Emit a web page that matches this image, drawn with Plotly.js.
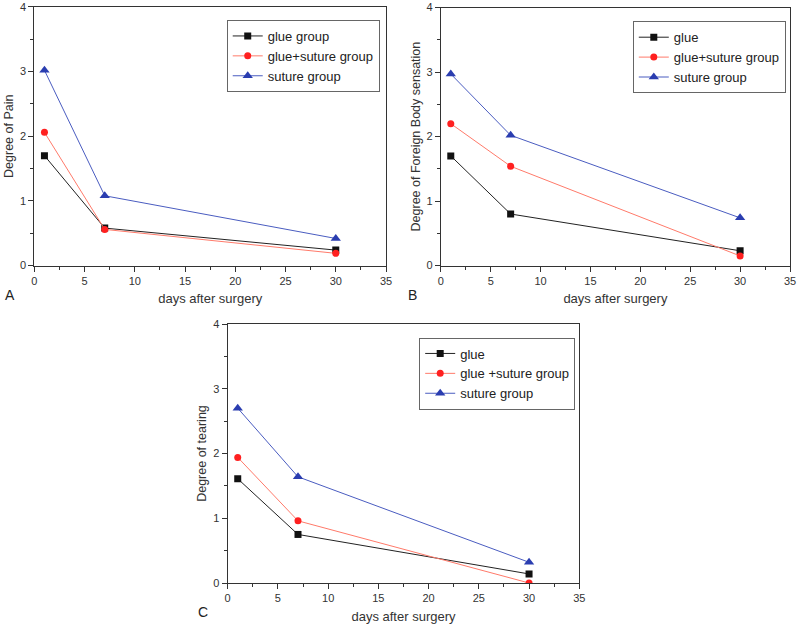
<!DOCTYPE html>
<html>
<head>
<meta charset="utf-8">
<script src="https://cdn.plot.ly/plotly-3.0.1.min.js"></script>
<style>
  html, body { margin: 0; padding: 0; background: #fff; }
  #chart { width: 800px; height: 625px; }
</style>
</head>
<body>
<div id="chart"></div>
<script>
// days after surgery
const days = [1, 7, 30]

// A: degree of pain
const painGlue = [1.70, 0.58, 0.24]
const painGlueSuture = [2.06, 0.56, 0.19]
const painSuture = [3.02, 1.08, 0.42]

// B: degree of foreign body sensation
const foreignGlue = [1.70, 0.80, 0.23]
const foreignGlueSuture = [2.20, 1.54, 0.15]
const foreignSuture = [2.97, 2.02, 0.74]

// C: degree of tearing
const tearGlue = [1.61, 0.75, 0.14]
const tearGlueSuture = [1.94, 0.96, 0.00]
const tearSuture = [2.70, 1.64, 0.32]

const namesA = ["glue group", "glue+suture group", "suture group"]
const namesB = ["glue", "glue+suture group", "suture group"]
const namesC = ["glue", "glue +suture group", "suture group"]

const colors = ["#111111", "#ff2020", "#2a3db0"]
const lineColors = ["#222222", "#ff7a6a", "#4a5cc0"]
const symbols = ["square", "circle", "triangle-up"]
const sizes = [7, 7, 9]

function series(values, names, xa, ya, legend) {
    return values.map((v, i) => ({
        x: days,
        y: v,
        name: names[i],
        xaxis: xa,
        yaxis: ya,
        legend: legend,
        mode: "lines+markers",
        line: { color: lineColors[i], width: 1 },
        marker: { color: colors[i], symbol: symbols[i], size: sizes[i] }
    }))
}

const traces = [
    ...series([painGlue, painGlueSuture, painSuture], namesA, "x", "y", "legend"),
    ...series([foreignGlue, foreignGlueSuture, foreignSuture], namesB, "x2", "y2", "legend2"),
    ...series([tearGlue, tearGlueSuture, tearSuture], namesC, "x3", "y3", "legend3")
]

function xAxis(domain, anchor) {
    return {
        domain: domain,
        anchor: anchor,
        range: [0, 35],
        dtick: 5,
        tick0: 0,
        ticks: "outside",
        ticklen: 5,
        tickcolor: "#333",
        minor: { dtick: 2.5, ticks: "outside", ticklen: 3, tickcolor: "#333" },
        showline: true,
        linecolor: "#333",
        linewidth: 1,
        mirror: true,
        showgrid: false,
        zeroline: false,
        tickfont: { size: 11, color: "#333" },
        title: { text: "days after surgery", font: { size: 13, color: "#333" }, standoff: 8 }
    }
}

function yAxis(domain, anchor, title) {
    return {
        domain: domain,
        anchor: anchor,
        range: [0, 4],
        dtick: 1,
        ticks: "outside",
        ticklen: 5,
        tickcolor: "#333",
        minor: { dtick: 0.5, ticks: "outside", ticklen: 3, tickcolor: "#333" },
        showline: true,
        linecolor: "#333",
        linewidth: 1,
        mirror: true,
        showgrid: false,
        zeroline: false,
        tickfont: { size: 11, color: "#333" },
        title: { text: title, font: { size: 12.5, color: "#333" }, standoff: 3 }
    }
}

function legendBox(x, y) {
    return {
        x: x,
        y: y,
        xanchor: "left",
        yanchor: "top",
        bgcolor: "#fff",
        bordercolor: "#666",
        borderwidth: 1,
        font: { size: 13, color: "#222" },
        itemwidth: 30,
        tracegroupgap: 0
    }
}

const layout = {
    width: 800,
    height: 625,
    margin: { l: 0, r: 0, t: 0, b: 0 },
    paper_bgcolor: "#fff",
    plot_bgcolor: "#fff",
    font: { family: "Liberation Sans, Arial, sans-serif", color: "#333" },
    xaxis: xAxis([0.043, 0.4825], "y"),
    yaxis: yAxis([0.575, 0.989], "x", "Degree of Pain"),
    xaxis2: xAxis([0.551, 0.9875], "y2"),
    yaxis2: yAxis([0.575, 0.988], "x2", "Degree of Foreign Body sensation"),
    xaxis3: xAxis([0.2846, 0.7241], "y3"),
    yaxis3: yAxis([0.0672, 0.4816], "x3", "Degree of tearing"),
    legend: legendBox(0.2834, 0.968),
    legend2: legendBox(0.791, 0.966),
    legend3: legendBox(0.524, 0.46),
    annotations: [
        { text: "A", x: 0.004, y: 0.528, xref: "paper", yref: "paper", xanchor: "left", yanchor: "middle", showarrow: false, font: { size: 14, color: "#222" } },
        { text: "B", x: 0.507, y: 0.528, xref: "paper", yref: "paper", xanchor: "left", yanchor: "middle", showarrow: false, font: { size: 14, color: "#222" } },
        { text: "C", x: 0.245, y: 0.021, xref: "paper", yref: "paper", xanchor: "left", yanchor: "middle", showarrow: false, font: { size: 14, color: "#222" } }
    ],
    showlegend: true
}

Plotly.newPlot("chart", traces, layout, { displayModeBar: false, staticPlot: true })
</script>
</body>
</html>
